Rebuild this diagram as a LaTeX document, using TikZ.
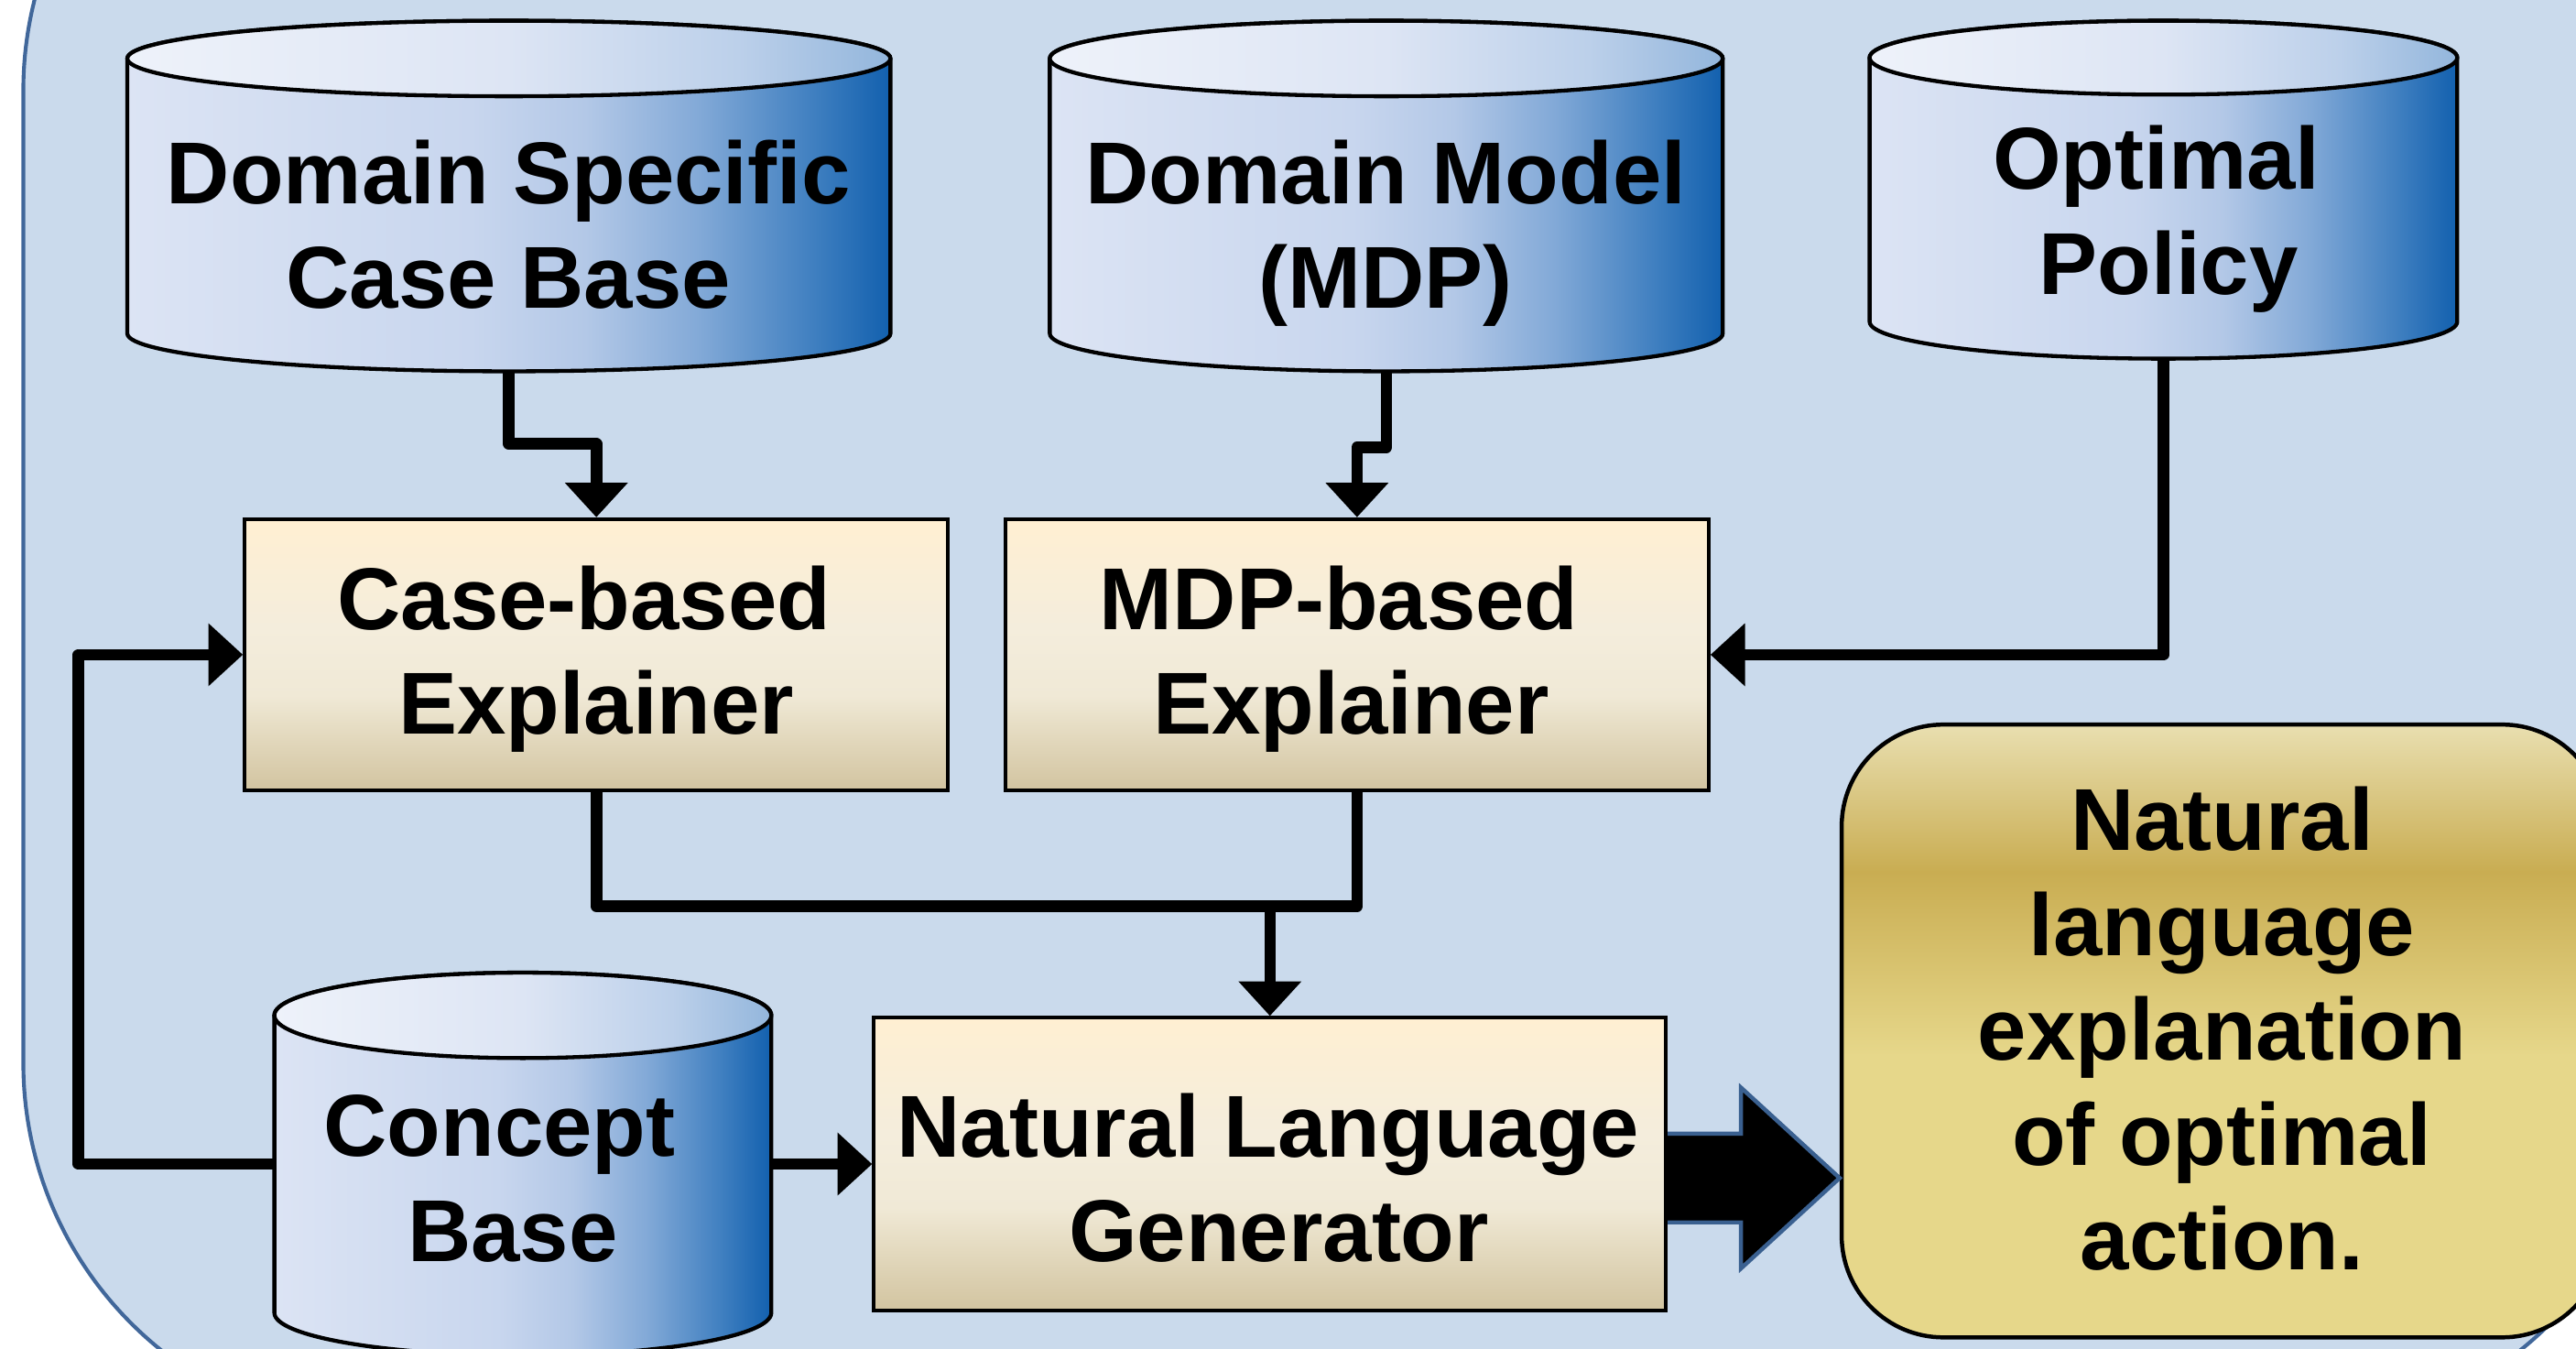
\documentclass[tikz,border=0pt]{standalone}
\usepackage{fontspec}
\setmainfont{Liberation Sans}
\usetikzlibrary{arrows.meta,calc}

\definecolor{bgfill}{HTML}{CADAEC}
\definecolor{bgline}{HTML}{41679A}
\definecolor{cbA}{HTML}{DCE4F4}
\definecolor{cbB}{HTML}{C8D6EE}
\definecolor{cbC}{HTML}{B3C8E7}
\definecolor{cbD}{HTML}{82A9D7}
\definecolor{cbE}{HTML}{3F7FC0}
\definecolor{cbF}{HTML}{1260AE}
\definecolor{ctA}{HTML}{EEF2FA}
\definecolor{ctB}{HTML}{DDE5F4}
\definecolor{ctC}{HTML}{BCD0EA}
\definecolor{ctD}{HTML}{93B6DC}
\definecolor{rbA}{HTML}{D2C4A0}
\definecolor{rbB}{HTML}{E3D9BE}
\definecolor{rbC}{HTML}{F0E9D6}
\definecolor{rbD}{HTML}{F4EDDC}
\definecolor{rbE}{HTML}{FFEFD2}
\definecolor{goA}{HTML}{E6D78A}
\definecolor{goB}{HTML}{C9AD52}
\definecolor{goC}{HTML}{E9DFB0}
\definecolor{arrline}{HTML}{3A6090}

\pgfdeclarehorizontalshading{cylbody}{100bp}{color(0bp)=(cbA); color(25bp)=(cbA); color(47.5bp)=(cbB); color(55bp)=(cbC); color(62.5bp)=(cbD); color(70bp)=(cbE); color(75bp)=(cbF); color(100bp)=(cbF)}
\pgfdeclarehorizontalshading{cyltop}{100bp}{color(0bp)=(ctA); color(25bp)=(ctA); color(50bp)=(ctB); color(65bp)=(ctC); color(75bp)=(ctD); color(100bp)=(ctD)}
\pgfdeclareverticalshading{procgrad}{100bp}{color(0bp)=(rbA); color(25bp)=(rbA); color(35bp)=(rbB); color(42.5bp)=(rbC); color(55bp)=(rbD); color(75bp)=(rbE); color(100bp)=(rbE)}
\pgfdeclareverticalshading{goldgrad}{100bp}{color(0bp)=(goA); color(25bp)=(goA); color(48bp)=(goA); color(63bp)=(goB); color(75bp)=(goC); color(100bp)=(goC)}

\newcommand\tst{\rule{0pt}{42pt}}
\newcommand\bst{\rule[-12pt]{0pt}{12pt}}

% #1 name, #2 x left, #3 x right, #4 y top, #5 y bottom, #6 ellipse y radius
\newcommand\dbcyl[6]{%
  \pgfmathsetmacro\cylrx{(#3-#2)/2}%
  \pgfmathsetmacro\cylcx{(#2+#3)/2}%
  \pgfmathsetmacro\cylya{#4+#6}%
  \pgfmathsetmacro\cylyb{#5-#6}%
  \shadedraw[shading=cylbody, draw=black, line width=2.4pt]
    (#2,\cylya) -- (#2,\cylyb)
    arc[start angle=180, end angle=0, x radius=\cylrx, y radius=#6]
    -- (#3,\cylya)
    arc[start angle=0, end angle=-180, x radius=\cylrx, y radius=#6] -- cycle;
  \shadedraw[shading=cyltop, draw=black, line width=2.4pt]
    (\cylcx,\cylya) ellipse[x radius=\cylrx, y radius=#6];
  \node[cylnode, minimum width={(#3-#2)*1pt}, minimum height={(#5-#4)*1pt}]
    (#1) at (\cylcx,{(#4+#5)/2}) {};
}

\begin{document}
\begin{tikzpicture}[x=1pt,y=-1pt,
  cylnode/.style={rectangle, inner sep=0pt, draw=none},
  procbox/.style={rectangle, draw=black, line width=2.3pt, shade, shading=procgrad, inner sep=0pt},
  goalbox/.style={rectangle, rounded corners=62pt, draw=black, line width=2.5pt, shade, shading=goldgrad, inner sep=0pt},
  txt/.style={align=center, inner sep=0pt, font=\fontsize{53.5}{63.8}\selectfont\bfseries},
  conn/.style={line width=7pt, line join=round},
  arr/.style={conn, -{Triangle[width=37pt,length=21pt]}},
  bigarr/.style={fill=black, draw=arrline, line width=2.5pt, line join=miter}]

\useasboundingbox (0,0) rectangle (1568,821);
\clip (0,0) rectangle (1568,821);

% background panel
\draw[fill=bgfill, draw=bgline, line width=2.3pt, rounded corners=224pt]
  (14.2,-169) rectangle (1618,871);

% data stores
\dbcyl{cDS}{77.5}{542}{12.6}{226}{23}
\dbcyl{cDM}{639}{1048.6}{12.6}{226}{23}
\dbcyl{cOP}{1138}{1495.7}{12.6}{218.3}{22.5}
\dbcyl{cCB}{167}{469.5}{592}{825}{26}

% process boxes
\node[procbox, minimum width=428pt, minimum height=165pt] (cbe) at (363,398.5) {};
\node[procbox, minimum width=428pt, minimum height=165pt] (mbe) at (826,398.5) {};
\node[procbox, minimum width=482pt, minimum height=178pt] (nlg) at (773,708.5) {};
\node[goalbox, minimum width=464pt, minimum height=373pt] (nle) at (1353,627.5) {};

% connectors
\draw[arr] (cDS.south) -- ++(0,44) -| (cbe.north);
\draw[arr] (cDM.south) -- ++(0,46) -| (mbe.north);
\draw[arr] (cOP.south) |- (mbe.east);
\coordinate (jn) at ($(cbe.south)+(0,69.5)$);
\draw[conn] (cbe.south) -- (jn) -| (mbe.south);
\draw[arr] (nlg.north |- jn) -- (nlg.north);
\draw[arr] (cCB.west |- nlg.west) -- ++(-119,0) |- (cbe.west);
\draw[arr] (cCB.east |- nlg.west) -- (nlg.west);

% big output arrow
\draw[bigarr] ($(nlg.east)+(0,-18.5)$) -- ++(44.6,0) -- ++(0,-28)
  -- ($(nle.west |- nlg.east)+(0,8.5)$)
  -- ($(nlg.east)+(44.6,63.5)$) -- ++(0,-28) -- ($(nlg.east)+(0,35.5)$);

% texts
\node[txt] (tDS) at (309.5,140.9) {\tst Domain Specific\\Case Base\bst};
\node[txt] (tDM) at (843.5,140.9) {\tst Domain Model\\(MDP)\bst};
\node[txt] (tOP) at (1320,132.2) {\tst Optimal\kern14.9pt\\Policy\bst};
\node[txt] (tCB) at (312,720.8) {\tst Concept\kern16pt\\Base\bst};
\node[txt] (tCBE) at (363,400) {\tst Case-based\kern14.9pt\\Explainer\bst};
\node[txt] (tMBE) at (822.5,400) {\tst MDP-based\kern14.9pt\\Explainer\bst};
\node[txt] (tNLG) at (778.5,721) {\tst Natural Language\kern13pt\\Generator\bst};
\node[txt] (tNLE) at (1352.5,630.3) {\tst Natural\\language\\explanation\\of optimal\\action.\bst};
\end{tikzpicture}
\end{document}
